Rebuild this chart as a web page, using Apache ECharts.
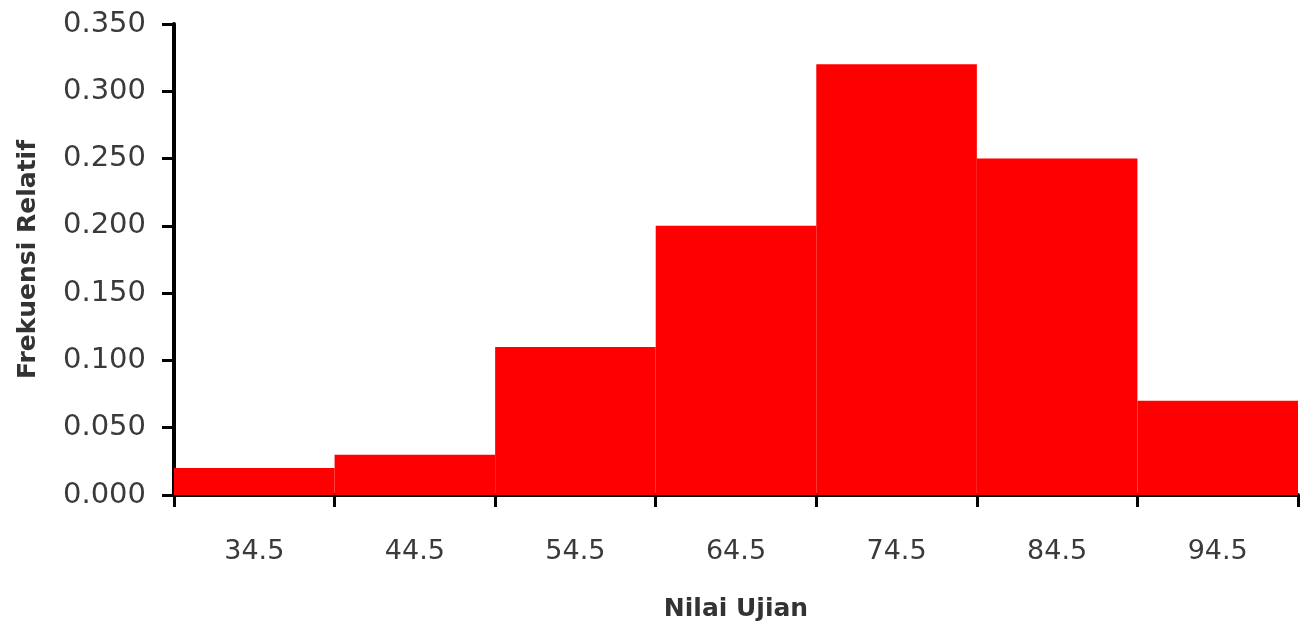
<!DOCTYPE html>
<html>
<head>
<meta charset="utf-8">
<script src="https://cdn.jsdelivr.net/npm/echarts@6/dist/echarts.min.js"></script>
<style>
html,body{margin:0;padding:0;background:#fff;}
#chart{width:1303px;height:633px;}
</style>
</head>
<body>
<div id="chart"></div>
<script>
const categories = ["34.5", "44.5", "54.5", "64.5", "74.5", "84.5", "94.5"];
const frekuensiRelatif = [0.02, 0.03, 0.11, 0.20, 0.32, 0.25, 0.07];
const yTitle = "Frekuensi Relatif";
const xTitle = "Nilai Ujian";

const chart = echarts.init(document.getElementById('chart'), null, {renderer: 'canvas'});
const font = '"DejaVu Sans", Verdana, sans-serif';
chart.setOption({
  animation: false,
  backgroundColor: '#ffffff',
  grid: {left: 174, right: 5, top: 24, bottom: 138, containLabel: false},
  xAxis: {
    type: 'category',
    data: categories,
    name: xTitle,
    nameLocation: 'middle',
    nameGap: 102,
    nameTextStyle: {fontFamily: font, fontSize: 25, fontWeight: 'bold', color: '#333'},
    boundaryGap: true,
    axisLine: {show: true, lineStyle: {color: '#000', width: 4}},
    axisTick: {show: true, alignWithLabel: false, length: 12, lineStyle: {color: '#000', width: 3}},
    axisLabel: {fontFamily: font, fontSize: 27, color: '#3a3a3a', margin: 43},
    splitLine: {show: false}
  },
  yAxis: {
    type: 'value',
    min: 0,
    max: 0.35,
    interval: 0.05,
    name: yTitle,
    nameLocation: 'middle',
    nameGap: 133,
    nameRotate: 90,
    nameTextStyle: {fontFamily: font, fontSize: 25, fontWeight: 'bold', color: '#333'},
    axisLine: {show: true, lineStyle: {color: '#000', width: 4}},
    axisTick: {show: true, length: 12, lineStyle: {color: '#000', width: 3}},
    axisLabel: {fontFamily: font, fontSize: 29, color: '#3a3a3a', margin: 28,
      formatter: v => v.toFixed(3)},
    splitLine: {show: false}
  },
  series: [{
    type: 'bar',
    data: frekuensiRelatif,
    barCategoryGap: '0%',
    itemStyle: {color: '#ff0000'}
  }]
});
</script>
</body>
</html>
